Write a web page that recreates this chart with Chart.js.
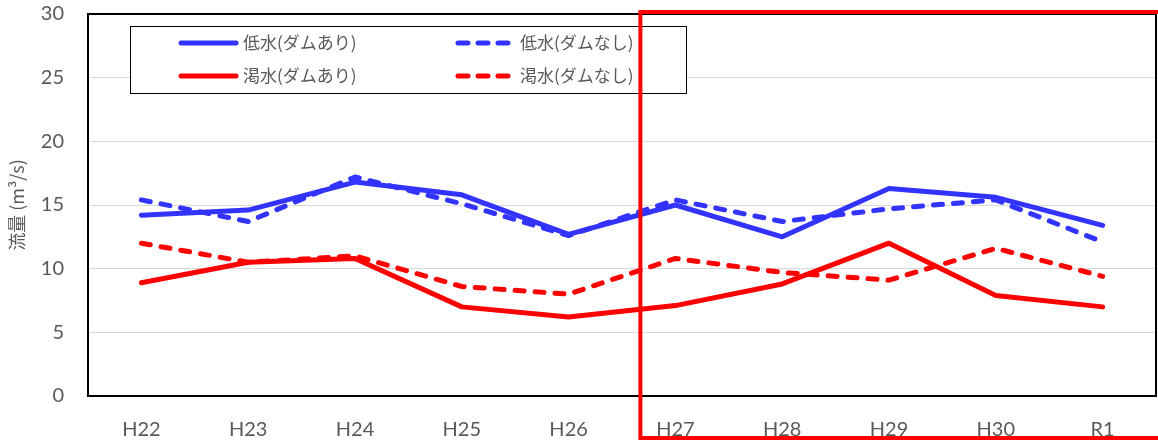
<!DOCTYPE html>
<html>
<head>
<meta charset="utf-8">
<script src="https://cdn.jsdelivr.net/npm/chart.js@4"></script>
<style>
  html, body { margin: 0; padding: 0; background: #fff; }
  #wrap { width: 1158px; height: 441px; position: relative; }
</style>
</head>
<body>
<div id="wrap"><canvas id="flow"></canvas></div>
<script>
// 年度
const years = ["H22", "H23", "H24", "H25", "H26", "H27", "H28", "H29", "H30", "R1"];
// 流量 (m3/s)
const lowWithDam = [14.2, 14.6, 16.8, 15.8, 12.7, 15.0, 12.5, 16.3, 15.6, 13.4];
const lowNoDam = [15.4, 13.7, 17.2, 15.1, 12.6, 15.4, 13.7, 14.7, 15.4, 12.1];
const droughtWithDam = [8.9, 10.5, 10.8, 7.0, 6.2, 7.1, 8.8, 12.0, 7.9, 7.0];
const droughtNoDam = [12.0, 10.5, 11.0, 8.6, 8.0, 10.8, 9.7, 9.1, 11.6, 9.4];
const yTicks = [0, 5, 10, 15, 20, 25, 30];

const BLUE = "#3333ff";
const RED = "#ff0000";
const JP = "'Noto Sans CJK JP', 'Noto Sans', sans-serif";

function line(label, data, color, dashed) {
  return {
    label: label,
    data: data,
    borderColor: color,
    backgroundColor: color,
    borderWidth: 5,
    borderDash: dashed ? [9, 11] : [],
    borderCapStyle: "round",
    borderJoinStyle: "round",
    pointRadius: 0,
    tension: 0,
    fill: false
  };
}

// 枠線・凡例・赤枠を描く
const decor = {
  id: "decor",
  afterDraw(chart) {
    const ctx = chart.ctx;
    const a = chart.chartArea;
    const x = chart.scales.x;
    ctx.save();
    // plot border
    ctx.strokeStyle = "#000";
    ctx.lineWidth = 2;
    ctx.strokeRect(a.left, a.top, a.right - a.left, a.bottom - a.top);

    // legend box
    ctx.fillStyle = "#fff";
    ctx.fillRect(130, 26, 556, 67);
    ctx.lineWidth = 1;
    ctx.strokeRect(130.5, 26.5, 556, 67);
    const items = [
      [0, 181, 43], [1, 458, 43], [2, 181, 76], [3, 458, 76]
    ];
    ctx.font = "17px " + JP;
    ctx.textBaseline = "middle";
    items.forEach(([i, lx, ly]) => {
      const ds = chart.data.datasets[i];
      ctx.beginPath();
      ctx.strokeStyle = ds.borderColor;
      ctx.lineWidth = 5;
      ctx.lineCap = "round";
      ctx.setLineDash(ds.borderDash.length ? [10, 10] : []);
      ctx.moveTo(lx, ly);
      ctx.lineTo(lx + 55, ly);
      ctx.stroke();
      ctx.setLineDash([]);
      ctx.fillStyle = "#595959";
      ctx.fillText(ds.label, lx + 62, ly);
    });

    // 赤枠 (H27〜R1)
    const left = x.getPixelForTick(5) - 35;
    ctx.strokeStyle = RED;
    ctx.lineWidth = 4;
    ctx.lineCap = "butt";
    ctx.strokeRect(left, 12, 1165 - left, 426);
    ctx.restore();
  }
};

new Chart(document.getElementById("flow"), {
  type: "line",
  data: {
    labels: years,
    datasets: [
      line("低水(ダムあり)", lowWithDam, BLUE, false),
      line("低水(ダムなし)", lowNoDam, BLUE, true),
      line("渇水(ダムあり)", droughtWithDam, RED, false),
      line("渇水(ダムなし)", droughtNoDam, RED, true)
    ]
  },
  options: {
    responsive: true,
    maintainAspectRatio: false,
    animation: false,
    layout: { padding: { top: 14, right: 2, left: 0, bottom: 0 } },
    plugins: {
      legend: { display: false },
      tooltip: { enabled: false }
    },
    scales: {
      x: {
        offset: true,
        grid: { display: false, drawTicks: false, offset: true },
        border: { display: false },
        ticks: {
          color: "#595959",
          font: { family: "Lato, 'Noto Sans', sans-serif", size: 20 },
          padding: 22,
          maxRotation: 0
        },
        afterFit: s => { s.height = 45; s.paddingLeft = 0; s.paddingRight = 0; }
      },
      y: {
        min: 0,
        max: 30,
        afterBuildTicks: s => { s.ticks = yTicks.map(v => ({ value: v })); },
        grid: { color: "#d9d9d9", lineWidth: 1, drawTicks: false },
        border: { display: false },
        ticks: {
          color: "#595959",
          font: { family: "Lato, 'Noto Sans', sans-serif", size: 20 },
          padding: 24
        },
        title: {
          display: true,
          text: "流量 (m³/s)",
          color: "#595959",
          font: { family: JP, size: 18 },
          padding: { top: 6, bottom: 0 }
        },
        afterFit: s => { s.width = 88; s.paddingTop = 0; s.paddingBottom = 0; }
      }
    }
  },
  plugins: [decor]
});
</script>
</body>
</html>
